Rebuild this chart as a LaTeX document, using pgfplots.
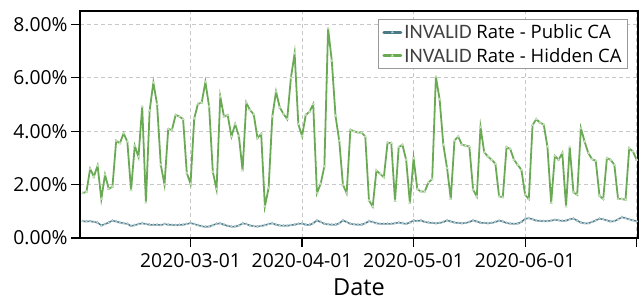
\documentclass[border=0pt]{standalone}
\usepackage{fontspec}
\setmainfont{Open Sans}
\newfontfamily\carl{Carlito}
\usepackage{pgfplots}
\pgfplotsset{compat=1.18}
\usepackage{pgfplotstable}
\definecolor{pubc}{RGB}{74,122,136}
\definecolor{hidc}{RGB}{106,170,84}
\definecolor{gridc}{RGB}{200,200,200}

\pgfplotstableread{
k pub hid
0 0.63 1.68
1 0.62 1.73
2 0.63 2.59
3 0.60 2.30
4 0.58 2.71
5 0.47 1.46
6 0.52 2.37
7 0.58 1.84
8 0.65 1.92
9 0.62 3.64
10 0.58 3.55
11 0.55 3.92
12 0.53 3.61
13 0.45 1.79
14 0.48 3.45
15 0.52 3.04
16 0.55 4.92
17 0.52 1.33
18 0.50 4.77
19 0.49 5.82
20 0.50 5.01
21 0.48 2.74
22 0.52 2.00
23 0.50 4.08
24 0.49 4.05
25 0.48 4.61
26 0.49 4.55
27 0.50 4.45
28 0.52 2.43
29 0.56 2.03
30 0.52 4.48
31 0.48 5.02
32 0.44 5.07
33 0.42 5.84
34 0.43 4.92
35 0.48 2.47
36 0.53 1.83
37 0.55 5.29
38 0.50 4.55
39 0.45 4.60
40 0.43 3.80
41 0.43 4.26
42 0.47 3.82
43 0.55 2.53
44 0.52 5.07
45 0.47 4.79
46 0.44 4.63
47 0.43 3.74
48 0.45 3.90
49 0.48 1.18
50 0.52 1.87
51 0.55 4.55
52 0.50 5.48
53 0.47 4.89
54 0.46 4.65
55 0.46 4.45
56 0.48 6.00
57 0.50 6.91
58 0.53 4.26
59 0.54 3.82
60 0.50 4.61
61 0.49 4.73
62 0.55 5.01
63 0.66 1.68
64 0.60 2.03
65 0.53 2.68
66 0.51 7.85
67 0.50 6.63
68 0.50 4.57
69 0.55 3.64
70 0.66 1.99
71 0.60 1.68
72 0.53 4.05
73 0.51 4.00
74 0.50 3.95
75 0.50 3.95
76 0.55 3.80
77 0.63 1.41
78 0.60 1.18
79 0.55 2.53
80 0.53 2.40
81 0.53 2.28
82 0.53 3.57
83 0.53 3.55
84 0.55 1.39
85 0.58 3.40
86 0.55 3.49
87 0.53 2.93
88 0.58 1.31
89 0.66 2.98
90 0.63 1.83
91 0.66 1.74
92 0.60 1.74
93 0.58 2.08
94 0.56 2.20
95 0.55 6.04
96 0.56 5.19
97 0.60 3.49
98 0.66 2.62
99 0.62 1.46
100 0.58 3.65
101 0.56 3.80
102 0.55 3.49
103 0.56 3.46
104 0.60 3.42
105 0.66 1.81
106 0.62 1.56
107 0.57 4.15
108 0.56 3.21
109 0.55 3.05
110 0.56 2.93
111 0.60 2.78
112 0.65 1.56
113 0.62 1.53
114 0.56 3.40
115 0.54 3.33
116 0.53 2.93
117 0.54 2.74
118 0.60 2.55
119 0.72 1.62
120 0.74 1.46
121 0.70 4.23
122 0.65 4.45
123 0.64 4.32
124 0.63 4.25
125 0.63 3.42
126 0.65 1.31
127 0.68 3.08
128 0.66 2.93
129 0.64 3.18
130 0.65 1.18
131 0.70 3.40
132 0.73 1.71
133 0.65 1.62
134 0.58 4.11
135 0.55 3.61
136 0.55 3.18
137 0.60 2.95
138 0.66 2.89
139 0.72 1.58
140 0.70 1.46
141 0.66 2.99
142 0.62 2.93
143 0.63 2.74
144 0.70 1.46
145 0.78 1.46
146 0.74 1.43
147 0.70 3.36
148 0.66 3.24
149 0.63 2.93
}\datatab

\begin{document}
\begin{tikzpicture}
\useasboundingbox (0,0) rectangle (641pt,301pt);
\begin{axis}[
  at={(80pt,63pt)}, anchor=south west,
  scale only axis, width=558pt, height=227pt,
  xmin=-0.73, xmax=149.36, ymin=0, ymax=8.5,
  xtick={29,59,89,119,149},
  xticklabels={2020-03-01,2020-04-01,2020-05-01,2020-06-01,{}},
  ytick={0,2,4,6,8},
  yticklabels={0.00\%,2.00\%,4.00\%,6.00\%,8.00\%},
  tick align=outside, major tick length=9pt,
  tick style={black, line width=1.2pt},
  axis line style={line width=1.2pt},
  xtick pos=bottom, ytick pos=left,
  grid=major, grid style={gridc, dash pattern=on 4pt off 3pt, line width=0.8pt},
  ticklabel style={font=\fontsize{19.3}{22}\selectfont},
  xticklabel style={yshift=-3pt},
  xlabel={Date}, xlabel style={font=\fontsize{23.5}{26}\selectfont, yshift=-6pt, inner sep=1pt},
  legend style={at={(1,1)}, anchor=north east, xshift=-10pt, yshift=-8pt,
    draw=gray!80, line width=0.8pt, fill=white,
    font=\fontsize{18.5}{22}\selectfont, cells={anchor=west},
    inner xsep=4pt, inner ysep=3pt, row sep=4pt},
  legend image code/.code={
    \draw[#1, line width=3pt, line cap=round] (0pt,0pt) -- (17pt,0pt);
    \path[#1] plot coordinates {(8.5pt,0pt)};
  },
]
\addplot[pubc, line width=1.5pt, mark=triangle*, mark size=1.4pt,
  mark options={fill=pubc!25!white, draw=pubc!55!white, line width=0.3pt, solid}]
  table[x=k, y=pub]{\datatab};
\addlegendentry{{\fontsize{20.5}{22}\selectfont\carl\color{black!75}INVALID} Rate - Public CA}
\addplot[hidc, line width=1.8pt, mark=triangle*, mark size=1.5pt,
  mark options={fill=hidc!25!white, draw=hidc!50!white, line width=0.3pt, solid}]
  table[x=k, y=hid]{\datatab};
\addlegendentry{{\fontsize{20.5}{22}\selectfont\carl\color{black!75}INVALID} Rate - Hidden CA}
\end{axis}
\end{tikzpicture}
\end{document}
